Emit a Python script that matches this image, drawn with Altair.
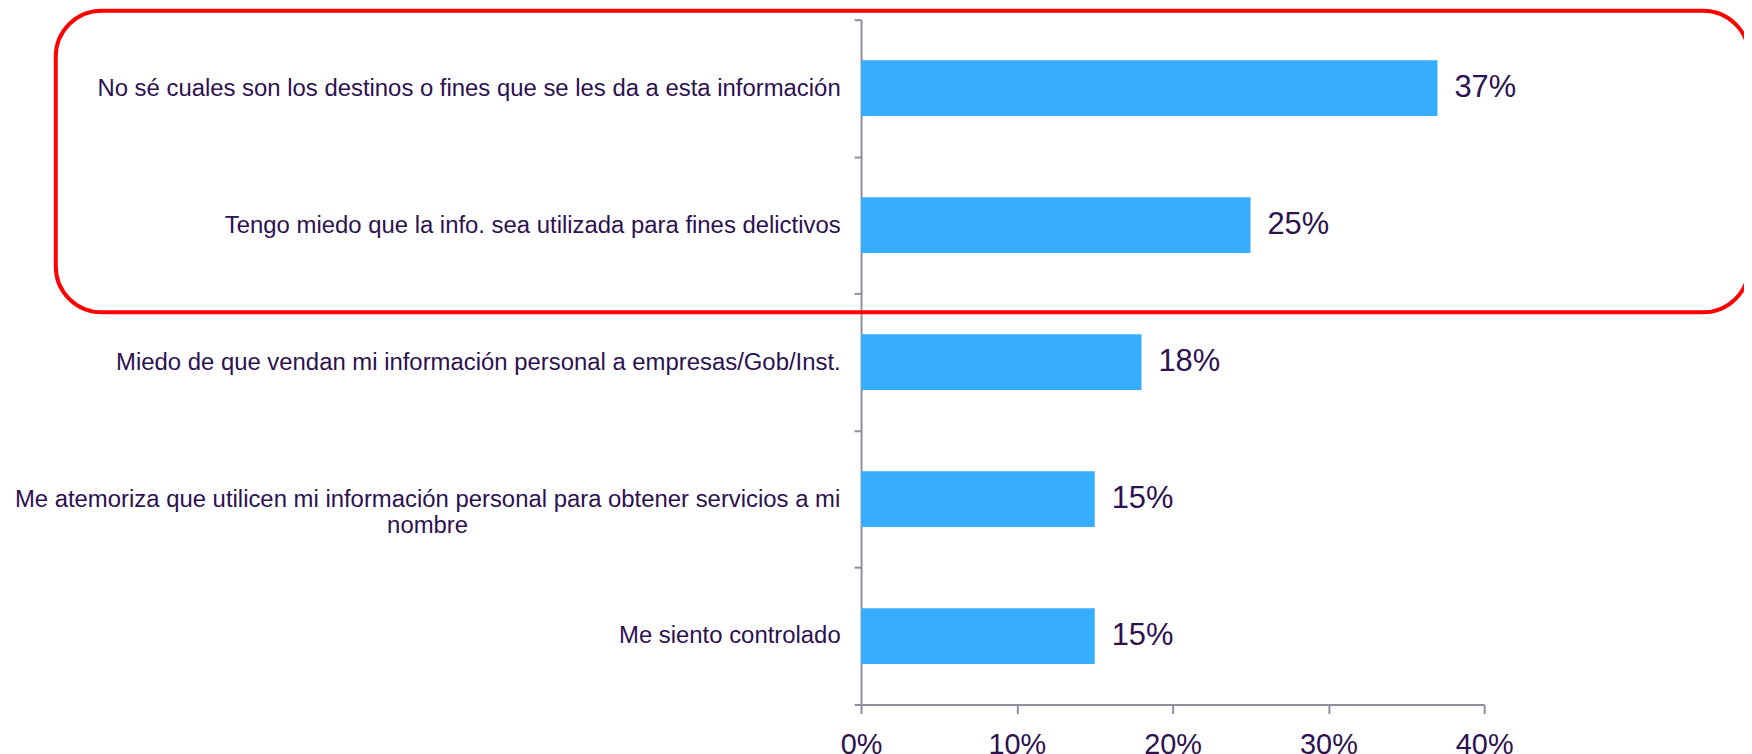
import altair as alt
import pandas as pd

categories = [
    "No sé cuales son los destinos o fines que se les da a esta información",
    "Tengo miedo que la info. sea utilizada para fines delictivos",
    "Miedo de que vendan mi información personal a empresas/Gob/Inst.",
    "Me atemoriza que utilicen mi información personal para obtener servicios a mi|nombre",
    "Me siento controlado",
]
values = [37, 25, 18, 15, 15]
x_ticks = [0, 10, 20, 30, 40]

TEXT = "#2d1150"
GRAY = "#8f8e9b"
BAR = "#36adfe"
FONT = "Liberation Sans"
LONG = categories[3]

df = pd.DataFrame({"cat": categories, "val": values})
df["lab"] = df["val"].map(lambda v: f"{v}%")

y_enc = alt.Y(
    "cat:N",
    sort=categories,
    scale=alt.Scale(paddingInner=0, paddingOuter=0),
    axis=alt.Axis(
        title=None,
        domainColor=GRAY,
        domainWidth=2,
        tickColor=GRAY,
        tickWidth=2,
        tickSize=7,
        tickBand="extent",
        labelFont=FONT,
        labelFontSize=24,
        labelColor=TEXT,
        labelLimit=2000,
        labelLineHeight=27,
        labelExpr="split(datum.label, '|')",
        labelAlign={"condition": {"test": f"datum.value == '{LONG}'", "value": "center"}, "value": "right"},
        labelPadding={"condition": {"test": f"datum.value == '{LONG}'", "value": 429}, "value": 14},
    ),
)

x_enc = alt.X(
    "val:Q",
    scale=alt.Scale(domain=[0, 40], nice=False),
    axis=alt.Axis(
        title=None,
        values=x_ticks,
        labelExpr="datum.value + '%'",
        domainColor=GRAY,
        domainWidth=2,
        tickColor=GRAY,
        tickWidth=2,
        tickSize=9,
        grid=False,
        labelFont=FONT,
        labelFontSize=29,
        labelColor=TEXT,
        labelPadding=17,
        labelFlush=False,
    ),
)

base = alt.Chart(df)
bars = base.mark_bar(color=BAR, size=56).encode(x=x_enc, y=y_enc)
labels = base.mark_text(
    align="left", baseline="middle", dx=17, font=FONT, fontSize=31, color=TEXT
).encode(x="val:Q", y=alt.Y("cat:N", sort=categories), text="lab:N")

box_df = pd.DataFrame({"k": [0]})
box = alt.Chart(box_df).mark_rect(
    fillOpacity=0, stroke="#ff0000", strokeWidth=4, cornerRadius=46, clip=False
).encode(
    x=alt.value(-809), x2=alt.value(892), y=alt.value(-9), y2=alt.value(294)
)

chart = alt.layer(bars, labels, box).properties(
    width=626,
    height=688,
    autosize=alt.AutoSizeParams(type="none"),
    padding={"left": 857, "top": 10, "right": 261, "bottom": 50},
).configure(background="white").configure_view(strokeWidth=0)

chart.save("out.html", embed_options={"renderer": "svg", "actions": False})
